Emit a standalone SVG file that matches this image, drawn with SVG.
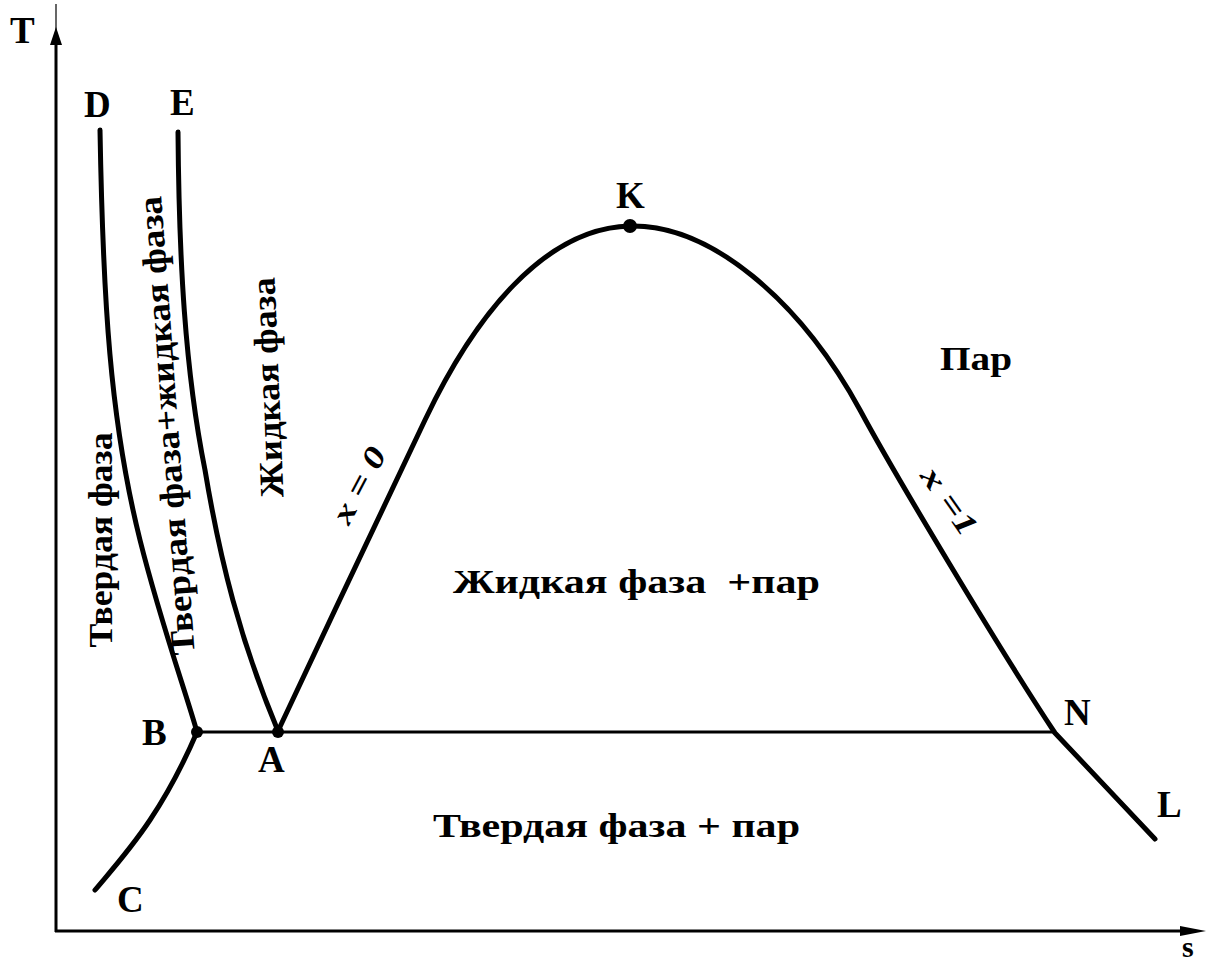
<svg xmlns="http://www.w3.org/2000/svg" width="1214" height="965" viewBox="0 0 1214 965">
<style>
.axis{stroke:#000;stroke-width:3;fill:none}
.curve{stroke:#000;stroke-width:5;fill:none;stroke-linecap:round;stroke-linejoin:round}
.tie{stroke:#000;stroke-width:3;fill:none}
.lbl{font-family:"Liberation Serif","Times New Roman",serif;font-weight:bold;font-size:37px;fill:#000}
.reg{font-family:"Liberation Serif","Times New Roman",serif;font-weight:bold;font-size:34px;fill:#000;white-space:pre}
.xq{font-family:"Liberation Serif","Times New Roman",serif;font-style:italic;font-weight:bold;font-size:31px;fill:#000}
.dot{fill:#000}
</style>
<rect width="1214" height="965" fill="#fff"/>
<g id="axes">
<line class="axis" x1="56" y1="40" x2="56" y2="932"/>
<line x1="56" y1="4" x2="56" y2="30" stroke="#000" stroke-width="1.2"/>
<polygon points="56,27 50,45 62,45" fill="#000"/>
<line class="axis" x1="55" y1="931" x2="1185" y2="931"/>
<polygon points="1206,931 1180,926 1180,936" fill="#000"/>
<text class="lbl" x="10" y="43">T</text>
<text class="lbl" x="1182" y="957" style="font-size:30px">s</text>
</g>
<g id="connectors">
<path id="DB" class="curve" d="M100,130 C103,300 110,420 140,540 C160,620 185,690 197,732"/>
<path id="EA" class="curve" d="M178,132 C179,260 185,370 205,470 C220,560 240,640 278,731"/>
<path id="BC" class="curve" d="M197,732 C185,760 170,790 150,820 C130,850 110,872 95,890"/>
<path id="AKN" class="curve" d="M278,731 C325,630 385,505 425,420 C475,315 545,228 630,226 C710,224 800,300 860,410 C895,475 1000,650 1055,733 L1155,839"/>
<line id="BN" class="tie" x1="197" y1="732" x2="1055" y2="732"/>
</g>
<g id="node-D"><text class="lbl" x="84" y="117">D</text></g>
<g id="node-E"><text class="lbl" x="170" y="115">E</text></g>
<g id="node-K"><circle class="dot" cx="630" cy="226" r="7"/><text class="lbl" x="616" y="208">K</text></g>
<g id="node-B"><circle class="dot" cx="197" cy="732" r="6"/><text class="lbl" x="142" y="745">B</text></g>
<g id="node-A"><circle class="dot" cx="278" cy="732" r="6"/><text class="lbl" x="258" y="772">A</text></g>
<g id="node-N"><text class="lbl" x="1064" y="725">N</text></g>
<g id="node-L"><text class="lbl" x="1157" y="817">L</text></g>
<g id="node-C"><text class="lbl" x="117" y="912">C</text></g>
<g id="labels">
<text class="reg" x="940" y="370" textLength="72" lengthAdjust="spacingAndGlyphs">Пар</text>
<text class="reg" x="453" y="593" textLength="367" lengthAdjust="spacingAndGlyphs">Жидкая фаза  +пар</text>
<text class="reg" x="433" y="837" textLength="367" lengthAdjust="spacingAndGlyphs">Твердая фаза + пар</text>
<text class="reg" transform="translate(112,540) rotate(-90)" text-anchor="middle" textLength="215" lengthAdjust="spacingAndGlyphs">Твердая фаза</text>
<text class="reg" transform="translate(178,425) rotate(-94.2)" text-anchor="middle" textLength="460" lengthAdjust="spacingAndGlyphs">Твердая фаза+жидкая фаза</text>
<text class="reg" transform="translate(279,387) rotate(-92.3)" text-anchor="middle" textLength="220" lengthAdjust="spacingAndGlyphs">Жидкая фаза</text>
<text class="xq" transform="translate(368,490) rotate(-62)" text-anchor="middle" textLength="82" lengthAdjust="spacingAndGlyphs">x = 0</text>
<text class="xq" transform="translate(941,507) rotate(55)" text-anchor="middle" textLength="76" lengthAdjust="spacingAndGlyphs">x =1</text>
</g>
</svg>
